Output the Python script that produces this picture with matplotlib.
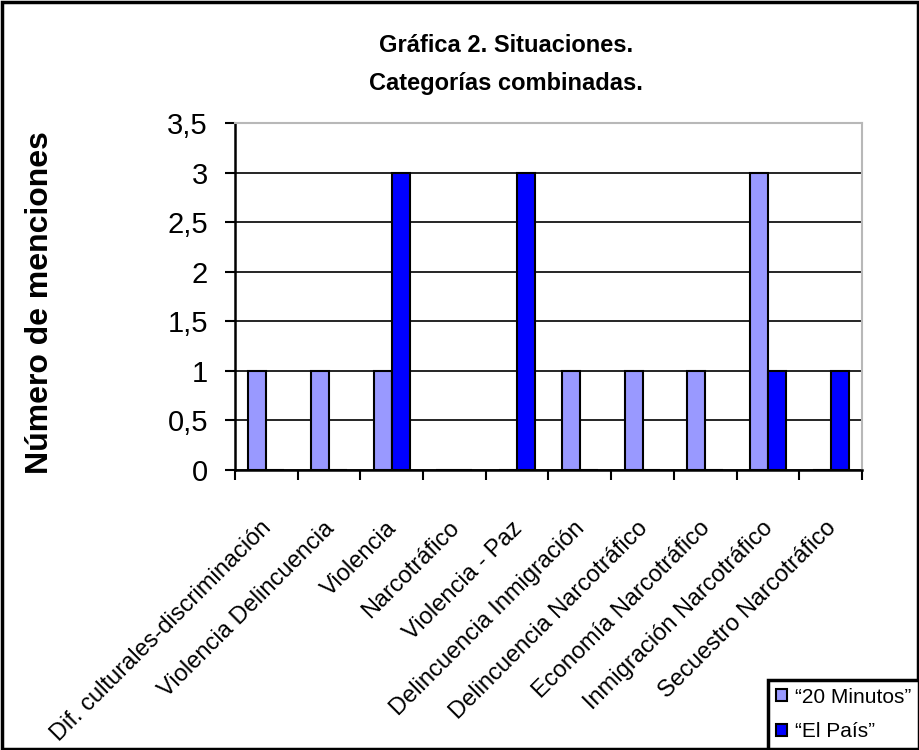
import numpy as np
import matplotlib.pyplot as plt
import matplotlib.transforms as mtransforms
from matplotlib.ticker import FuncFormatter, FixedLocator

plt.rcParams['font.family'] = ['Liberation Sans', 'DejaVu Sans']

categorias = ['Dif. culturales-discriminación', 'Violencia Delincuencia', 'Violencia',
              'Narcotráfico', 'Violencia - Paz', 'Delincuencia Inmigración',
              'Delincuencia Narcotráfico', 'Economía Narcotráfico',
              'Inmigración Narcotráfico', 'Secuestro Narcotráfico']
minutos20 = [1, 1, 1, 0, 0, 1, 1, 1, 3, 0]
el_pais = [0, 0, 3, 0, 3, 0, 0, 0, 1, 1]
yticks = [0, 0.5, 1, 1.5, 2, 2.5, 3, 3.5]

fig = plt.figure(figsize=(9.2, 7.5), dpi=100)
ax = fig.add_axes([0.2554, 0.3733, 0.6815, 0.4627])

x = np.arange(len(categorias))
w = 0.287
ax.bar(x - w/2, minutos20, w, color='#9999FF', edgecolor='black', linewidth=1.5,
       label='\u201c20 Minutos\u201d', zorder=3)
ax.bar(x + w/2, el_pais, w, color='#0000FF', edgecolor='black', linewidth=1.5,
       label='\u201cEl País\u201d', zorder=3)

ax.set_xlim(-0.5, len(categorias) - 0.5)
ax.set_ylim(0, 3.5)
ax.set_yticks(yticks)
ax.yaxis.set_major_formatter(FuncFormatter(lambda v, p: ('%g' % v).replace('.', ',')))
ax.tick_params(axis='y', labelsize=21, length=7.5, width=1.5, direction='out', pad=12)
for v in yticks[:-1]:
    ax.axhline(v, color='black', lw=1.2, zorder=1)

ax.set_xticks(x)
ax.set_xticklabels(categorias, rotation=45, ha='right', rotation_mode='anchor', fontsize=17)
ax.tick_params(axis='x', which='major', length=0, pad=34)
ax.xaxis.set_minor_locator(FixedLocator(np.arange(-0.5, len(categorias), 1.0)))
ax.tick_params(axis='x', which='minor', length=7.5, width=1.5, direction='out')
shift = mtransforms.ScaledTranslation(-6/100, 0, fig.dpi_scale_trans)
for lbl in ax.get_xticklabels():
    lbl.set_transform(lbl.get_transform() + shift)

ax.spines['left'].set_linewidth(1.8)
ax.spines['bottom'].set_linewidth(1.8)
ax.spines['top'].set_color('#b8b8b8')
ax.spines['right'].set_color('#b8b8b8')
ax.spines['top'].set_linewidth(1.5)
ax.spines['right'].set_linewidth(1.5)

fig.text(0.55, 0.94, 'Gráfica 2. Situaciones.', ha='center', va='center',
         fontsize=17, fontweight='bold')
fig.text(0.55, 0.889, 'Categorías combinadas.', ha='center', va='center',
         fontsize=17, fontweight='bold')
fig.text(0.0435, 0.596, 'Número de menciones', rotation=90, ha='center', va='center',
         fontsize=23, fontweight='bold')

leg = fig.legend(loc='lower right', bbox_to_anchor=(0.999, 0.002), fontsize=15,
                 fancybox=False, framealpha=1, edgecolor='black',
                 handlelength=0.55, handleheight=0.55, handletextpad=0.4,
                 labelspacing=0.75, borderpad=0.35, borderaxespad=0)
leg.get_frame().set_linewidth(2.5)

fig.patches.append(plt.Rectangle((0.002, 0.002), 0.996, 0.996, transform=fig.transFigure,
                                 fill=False, edgecolor='black', linewidth=2.5))

fig.savefig('out.png', dpi=100)
